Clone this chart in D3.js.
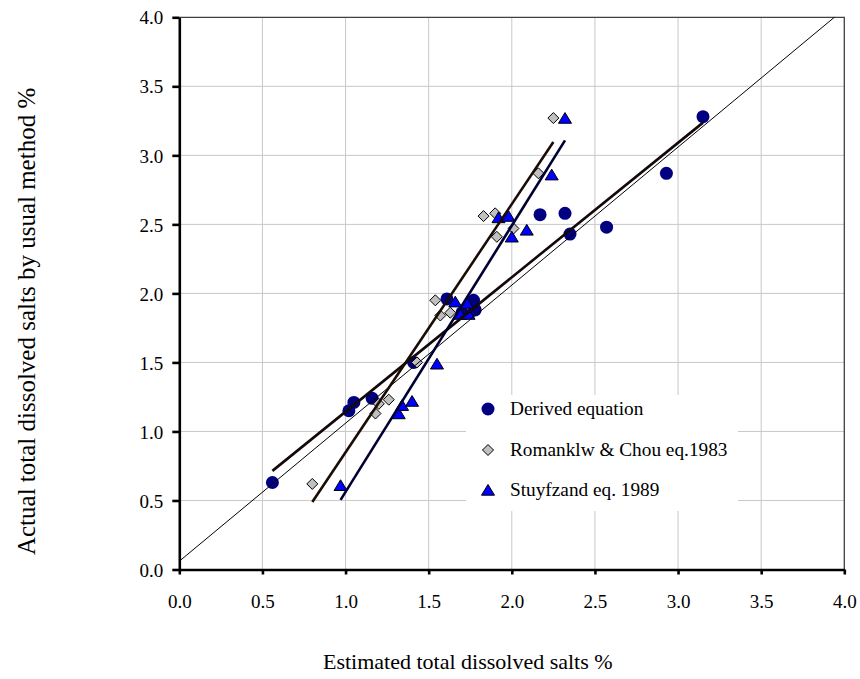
<!DOCTYPE html>
<html>
<head>
<meta charset="utf-8">
<script src="https://cdn.jsdelivr.net/npm/d3@7"></script>
<style>
  body { margin: 0; background: #fff; }
  svg { display: block; font-family: "Liberation Serif", "Times New Roman", serif; }
  svg text { font-family: "Liberation Serif", "Times New Roman", serif; }
</style>
</head>
<body>
<div id="root"></div>
<script>
// series
const derivedX = [0.56, 1.02, 1.05, 1.16, 1.41, 1.61, 1.70, 1.77, 1.78, 2.17, 2.32, 2.35, 2.57, 2.93, 3.15]
const derivedY = [0.63, 1.15, 1.21, 1.24, 1.50, 1.96, 1.86, 1.95, 1.88, 2.57, 2.58, 2.43, 2.48, 2.87, 3.28]

const romX = [0.80, 1.18, 1.20, 1.26, 1.43, 1.54, 1.57, 1.63, 1.83, 1.90, 1.91, 2.01, 2.16, 2.25]
const romY = [0.62, 1.13, 1.20, 1.23, 1.50, 1.95, 1.84, 1.86, 2.56, 2.58, 2.41, 2.47, 2.87, 3.27]

const stuyX = [0.97, 1.32, 1.34, 1.40, 1.55, 1.66, 1.69, 1.73, 1.74, 1.92, 1.98, 2.00, 2.09, 2.24, 2.32]
const stuyY = [0.61, 1.13, 1.19, 1.22, 1.49, 1.94, 1.85, 1.93, 1.85, 2.55, 2.56, 2.41, 2.46, 2.86, 3.27]

// linear trendlines [slope, intercept]
const derivedFit = [0.974, 0.169]
const romFit = [1.798, -0.949]
const stuyFit = [1.929, -1.367]

// 1:1 reference line
const refX = [0.0, 3.94]
const refY = [0.06, 4.0]

const seriesNames = ["Derived equation", "Romanklw & Chou eq.1983", "Stuyfzand eq. 1989"]
const xTicks = [0, 0.5, 1, 1.5, 2, 2.5, 3, 3.5, 4]
const yTicks = [0, 0.5, 1, 1.5, 2, 2.5, 3, 3.5, 4]

const W = 860, H = 679
const plot = {left: 179.3, right: 844.3, top: 17.3, bottom: 569.5}

const svg = d3.select("#root").append("svg")
    .attr("width", W)
    .attr("height", H)

const x = d3.scaleLinear().domain([0, 4]).range([plot.left, plot.right])
const y = d3.scaleLinear().domain([0, 4]).range([plot.bottom, plot.top])

// gridlines
svg.append("g")
    .selectAll("line.vg")
    .data(xTicks.slice(1, -1))
    .join("line")
    .attr("x1", d => x(d)).attr("x2", d => x(d))
    .attr("y1", plot.top).attr("y2", plot.bottom)
    .attr("stroke", "#c8c8c8").attr("stroke-width", 1)
svg.append("g")
    .selectAll("line.hg")
    .data(yTicks.slice(1, -1))
    .join("line")
    .attr("x1", plot.left).attr("x2", plot.right)
    .attr("y1", d => y(d)).attr("y2", d => y(d))
    .attr("stroke", "#c8c8c8").attr("stroke-width", 1)

// top and right border
svg.append("path")
    .attr("d", `M${plot.left},${plot.top}H${plot.right}V${plot.bottom}`)
    .attr("fill", "none")
    .attr("stroke", "#404040")
    .attr("stroke-width", 1.3)

// markers
const zip = (xs, ys) => xs.map((v, i) => [v, ys[i]])

svg.append("g").selectAll("circle")
    .data(zip(derivedX, derivedY))
    .join("circle")
    .attr("cx", d => x(d[0])).attr("cy", d => y(d[1]))
    .attr("r", 6.5)
    .attr("fill", "#000080")

const diamond = s => `M0,${-s}L${s},0L0,${s}L${-s},0Z`
const triangle = s => `M0,${-s * 0.85}L${s},${s * 0.8}L${-s},${s * 0.8}Z`

svg.append("g").selectAll("path")
    .data(zip(romX, romY))
    .join("path")
    .attr("transform", d => `translate(${x(d[0])},${y(d[1])})`)
    .attr("d", diamond(5.5))
    .attr("fill", "#c0c0c0")
    .attr("stroke", "#000").attr("stroke-width", 1)

svg.append("g").selectAll("path")
    .data(zip(stuyX, stuyY))
    .join("path")
    .attr("transform", d => `translate(${x(d[0])},${y(d[1])})`)
    .attr("d", triangle(6.5))
    .attr("fill", "#0000ff")
    .attr("stroke", "#000").attr("stroke-width", 1)

// trend lines, each spanning its series' x range
const line = d3.line().x(d => x(d[0])).y(d => y(d[1]))
const trend = (xs, fit) => d3.extent(xs).map(v => [v, fit[0] * v + fit[1]])

svg.append("path").datum(zip(refX, refY))
    .attr("d", line).attr("fill", "none")
    .attr("stroke", "#000").attr("stroke-width", 1)

const trends = [[derivedX, derivedFit, "#140808"], [romX, romFit, "#1a0c04"], [stuyX, stuyFit, "#000030"]]
trends.forEach(t => {
    svg.append("path").datum(trend(t[0], t[1]))
        .attr("d", line).attr("fill", "none")
        .attr("stroke", t[2]).attr("stroke-width", 2.6)
})

// axes
const xAxis = svg.append("g")
    .attr("transform", `translate(0,${plot.bottom})`)
    .call(d3.axisBottom(x).tickValues(xTicks).tickFormat(d3.format(".1f")).tickSize(5).tickSizeOuter(0))
xAxis.attr("font-family", null).attr("font-size", null)
xAxis.select(".domain").attr("stroke", "#000").attr("stroke-width", 2.6)
xAxis.selectAll(".tick line").attr("stroke", "#000").attr("stroke-width", 2.6)
xAxis.selectAll(".tick text")
    .attr("y", 38).attr("dy", null)
    .style("font-size", "19px").attr("fill", "#000")

const yAxis = svg.append("g")
    .attr("transform", `translate(${plot.left},0)`)
    .call(d3.axisLeft(y).tickValues(yTicks).tickFormat(d3.format(".1f")).tickSize(7).tickSizeOuter(0))
yAxis.attr("font-family", null).attr("font-size", null)
yAxis.select(".domain").attr("stroke", "#000").attr("stroke-width", 2.6)
yAxis.selectAll(".tick line").attr("stroke", "#000").attr("stroke-width", 2.6)
yAxis.selectAll(".tick text")
    .attr("x", -16).attr("dy", "0.35em")
    .style("font-size", "19px").attr("fill", "#000")

// legend
const lg = svg.append("g").attr("transform", "translate(466,395)")
lg.append("rect").attr("width", 272).attr("height", 116).attr("fill", "#fff")
const rows = [14, 55, 95]
lg.append("circle").attr("cx", 22).attr("cy", rows[0]).attr("r", 6.5).attr("fill", "#000080")
lg.append("path").attr("transform", `translate(22,${rows[1]})`).attr("d", diamond(5.5))
    .attr("fill", "#c0c0c0").attr("stroke", "#000")
lg.append("path").attr("transform", `translate(22,${rows[2]})`).attr("d", triangle(6.5))
    .attr("fill", "#0000ff").attr("stroke", "#000")
lg.selectAll("text")
    .data(seriesNames)
    .join("text")
    .attr("x", 44)
    .attr("y", (d, i) => rows[i] + 6)
    .style("font-size", "19.3px")
    .text(d => d)

// axis titles
svg.append("text")
    .attr("x", (plot.left + plot.right) / 2 - 44)
    .attr("y", 669)
    .attr("text-anchor", "middle")
    .style("font-size", "22px")
    .text("Estimated total dissolved salts %")

svg.append("text")
    .attr("transform", `translate(35,${(plot.top + plot.bottom) / 2 + 28}) rotate(-90)`)
    .attr("text-anchor", "middle")
    .style("font-size", "25px")
    .text("Actual total dissolved salts by usual method %")
</script>
</body>
</html>
